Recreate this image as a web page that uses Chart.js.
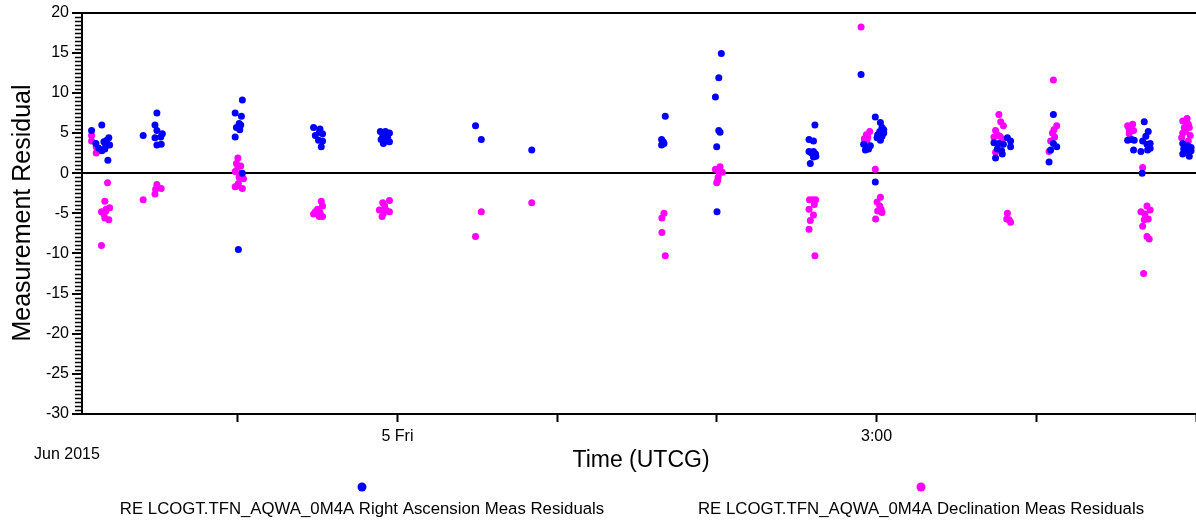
<!DOCTYPE html>
<html>
<head>
<meta charset="utf-8">
<script src="https://cdn.jsdelivr.net/npm/chart.js@4.4.1/dist/chart.umd.min.js"></script>
<style>
  html, body { margin: 0; padding: 0; background: #fff; }
  #wrap { width: 1196px; height: 523px; position: relative; }
</style>
</head>
<body>
<div id="wrap"><canvas id="myChartResiduales"></canvas></div>
<script>
// horas relativas a 5 Jun 2015 00:00 UTCG, residuo
var raPoints = [
    [-1.915, 5.3], [-1.888, 3.7], [-1.851, 6.0], [-1.851, 2.8], [-1.838, 3.9], [-1.826, 3.4],
    [-1.820, 4.1], [-1.807, 4.4], [-1.802, 3.5], [-1.813, 1.6], [-1.832, 3.0], [-1.870, 3.1],
    [-1.592, 4.7], [-1.506, 7.5], [-1.518, 6.0], [-1.506, 5.3], [-1.518, 4.4], [-1.506, 3.5],
    [-1.479, 3.6], [-1.472, 4.9], [-1.482, 4.5],
    [-1.016, 7.5], [-0.971, 9.1], [-0.977, 7.1], [-0.991, 6.2], [-1.008, 5.7], [-0.981, 6.0],
    [-0.987, 5.4], [-1.016, 4.5], [-0.971, 0.0], [-0.996, -9.5],
    [-0.525, 5.7], [-0.485, 5.5], [-0.514, 4.7], [-0.469, 4.9], [-0.494, 4.1], [-0.469, 4.0],
    [-0.477, 3.3], [-0.489, 5.1],
    [-0.107, 5.2], [-0.075, 5.2], [-0.050, 5.0], [-0.092, 4.6], [-0.061, 4.4], [-0.102, 4.2],
    [-0.050, 3.9], [-0.088, 3.7], [-0.072, 4.0], [-0.082, 4.9],
    [0.489, 5.9], [0.525, 4.2], [0.841, 2.9],
    [1.677, 7.1], [1.654, 4.2], [1.664, 3.9], [1.654, 3.5], [1.669, 3.7],
    [2.028, 14.9], [2.012, 11.9], [1.991, 9.5], [2.012, 5.3], [2.020, 5.1], [1.999, 3.3], [2.001, -4.8],
    [2.614, 6.0], [2.577, 4.2], [2.605, 4.0], [2.577, 2.7], [2.605, 2.7], [2.618, 2.4],
    [2.605, 2.0], [2.620, 2.1], [2.585, 1.2], [2.592, 2.5],
    [2.903, 12.3], [2.992, 7.0], [3.024, 6.3], [3.034, 5.7], [3.045, 5.4], [3.020, 5.2],
    [3.007, 4.8], [3.034, 4.6], [3.024, 4.1], [3.003, 4.4], [3.045, 5.0], [2.919, 3.6],
    [2.940, 3.2], [2.930, 2.9], [2.961, 3.4], [2.950, 3.0], [2.992, -1.1],
    [3.735, 3.8], [3.766, 3.7], [3.794, 3.6], [3.819, 4.4], [3.839, 4.0], [3.839, 3.3],
    [3.783, 2.8], [3.756, 3.0], [3.745, 1.9], [3.787, 2.4],
    [4.107, 7.3], [4.107, 3.7], [4.090, 2.9], [4.128, 3.3], [4.080, 1.4],
    [4.676, 6.4], [4.701, 5.2], [4.686, 4.6], [4.572, 4.1], [4.597, 4.2], [4.613, 4.1],
    [4.666, 4.0], [4.693, 3.6], [4.713, 3.7], [4.609, 2.9], [4.655, 2.7], [4.697, 2.9],
    [4.713, 3.1], [4.663, 0.0],
    [4.917, 3.7], [4.948, 3.4], [4.969, 3.2], [4.923, 3.0], [4.944, 2.8], [4.917, 2.4],
    [4.958, 2.1], [4.930, 3.3], [4.969, 2.8]
];

var decPoints = [
    [-1.915, 4.7], [-1.915, 4.0], [-1.886, 3.3], [-1.886, 2.5], [-1.880, 2.9], [-1.815, -1.2],
    [-1.832, -3.5], [-1.853, -4.8], [-1.824, -4.5], [-1.802, -4.3], [-1.838, -5.1], [-1.832, -5.6],
    [-1.807, -5.8], [-1.826, -4.7], [-1.853, -9.0],
    [-1.592, -3.3], [-1.506, -1.4], [-1.479, -1.9], [-1.518, -2.6], [-1.514, -2.0],
    [-0.999, 1.9], [-1.008, 1.2], [-0.981, 0.9], [-1.016, 0.2], [-0.999, 0.8], [-0.979, 0.0],
    [-0.991, -0.5], [-1.016, -1.7], [-0.996, -1.3], [-0.971, -1.9], [-0.964, -0.7], [-1.003, -1.6],
    [-0.477, -3.5], [-0.469, -4.1], [-0.514, -4.8], [-0.500, -4.5], [-0.525, -5.1], [-0.489, -5.4],
    [-0.469, -5.4], [-0.505, -5.0], [-0.485, -4.9],
    [-0.050, -3.4], [-0.092, -3.7], [-0.080, -4.1], [-0.113, -4.6], [-0.050, -4.8], [-0.096, -5.4],
    [-0.072, -4.6], [-0.088, -5.0],
    [0.525, -4.8], [0.489, -7.9], [0.841, -3.7],
    [1.669, -5.0], [1.656, -5.6], [1.656, -7.4], [1.677, -10.3],
    [1.991, 0.5], [2.020, 0.8], [2.012, 0.2], [2.034, 0.1], [2.008, -0.5], [1.999, -1.2], [2.005, -0.9],
    [2.580, -3.3], [2.618, -3.3], [2.600, -3.3], [2.610, -3.9], [2.577, -4.5], [2.605, -5.2],
    [2.585, -5.9], [2.577, -7.0], [2.614, -10.3],
    [2.903, 18.2], [2.957, 5.2], [2.936, 4.8], [2.923, 4.3], [2.940, 4.1], [2.930, 3.7],
    [2.945, 4.5], [2.992, 0.5], [3.024, -3.0], [3.003, -3.6], [3.020, -4.1], [3.028, -4.5],
    [3.007, -4.7], [3.034, -4.9], [2.994, -5.7],
    [3.766, 7.3], [3.777, 6.4], [3.794, 5.9], [3.745, 5.3], [3.756, 4.8], [3.735, 4.5],
    [3.772, 4.6], [3.787, 4.3], [3.745, 2.6], [3.819, -5.0], [3.839, -6.1], [3.830, -5.8], [3.815, -5.7],
    [4.107, 11.6], [4.128, 5.9], [4.111, 5.4], [4.101, 5.0], [4.115, 4.5], [4.090, 4.0], [4.080, 2.7],
    [4.572, 5.9], [4.603, 6.1], [4.582, 5.4], [4.609, 5.3], [4.582, 4.9], [4.666, 0.7],
    [4.693, -4.1], [4.655, -4.8], [4.713, -4.6], [4.680, -5.1], [4.701, -5.7], [4.676, -5.8],
    [4.666, -6.6], [4.693, -7.9], [4.707, -8.2], [4.672, -12.5],
    [4.944, 6.8], [4.917, 6.5], [4.952, 6.1], [4.927, 5.7], [4.958, 5.7], [4.917, 5.0],
    [4.964, 4.7], [4.910, 4.4], [4.952, 4.0], [4.935, 5.2]
];

var xTickHours = [-1, 0, 1, 2, 3, 4, 5];
var xTickLabels = { 0: '5 Fri', 3: '3:00' };
var seriesNames = [
    'RE LCOGT.TFN_AQWA_0M4A Right Ascension Meas Residuals',
    'RE LCOGT.TFN_AQWA_0M4A Declination Meas Residuals'
];
var seriesColors = ['#0000ff', '#ff00ff'];

function toXY(arr) {
    return arr.map(function (p) { return { x: p[0], y: p[1] }; });
}

var FONT = 'Arial, "Liberation Sans", sans-serif';

// textos extra, marcas menores y leyenda
var extrasPlugin = {
    id: 'extras',
    afterDraw: function (chart) {
        var c = chart.ctx;
        var ys = chart.scales.y;
        var area = chart.chartArea;
        c.save();
        c.strokeStyle = '#000';
        c.lineWidth = 1.5;
        for (var v = -30; v <= 20; v += 0.5) {
            if (v % 5 === 0) continue;
            var py = Math.round(ys.getPixelForValue(v)) + 0.5;
            c.beginPath();
            c.moveTo(area.left - 7, py);
            c.lineTo(area.left, py);
            c.stroke();
        }

        c.fillStyle = '#000';
        c.textAlign = 'center';
        c.textBaseline = 'middle';
        c.font = '16px ' + FONT;
        c.fillText('Jun 2015', 67, 455);

        c.font = '23px ' + FONT;
        c.fillText('Time (UTCG)', 641, 461);

        c.save();
        c.translate(23, 213);
        c.rotate(-Math.PI / 2);
        c.font = '25px ' + FONT;
        c.fillText('Measurement Residual', 0, 0);
        c.restore();

        var legX = [362, 921];
        c.font = '16.8px ' + FONT;
        for (var i = 0; i < 2; i++) {
            c.fillStyle = seriesColors[i];
            c.beginPath();
            c.arc(legX[i], 487, 4.5, 0, Math.PI * 2);
            c.fill();
            c.fillStyle = '#000';
            c.fillText(seriesNames[i], legX[i], 509);
        }
        c.restore();
    }
};

function initializeChartResiduales() {
    var ctx = document.getElementById('myChartResiduales').getContext('2d');

    window.myChart = new Chart(ctx, {
        type: 'scatter',
        data: {
            datasets: [{
                label: seriesNames[0],
                data: toXY(raPoints),
                backgroundColor: seriesColors[0],
                borderWidth: 0,
                pointRadius: 3.5
            },
            {
                label: seriesNames[1],
                data: toXY(decPoints),
                backgroundColor: seriesColors[1],
                borderWidth: 0,
                pointRadius: 3.5
            }]
        },
        options: {
            responsive: true,
            maintainAspectRatio: false,
            animation: false,
            events: [],
            layout: {
                autoPadding: false,
                padding: { top: 11, left: 0, right: 0, bottom: 0 }
            },
            plugins: {
                legend: { display: false },
                tooltip: { enabled: false }
            },
            scales: {
                x: {
                    type: 'linear',
                    min: -1.975,
                    max: 5,
                    afterBuildTicks: function (scale) {
                        scale.ticks = xTickHours.map(function (h) { return { value: h }; });
                    },
                    afterFit: function (scale) {
                        scale.height = 109;
                        scale.paddingLeft = 0;
                        scale.paddingRight = 0;
                    },
                    ticks: {
                        autoSkip: false,
                        maxRotation: 0,
                        color: '#000',
                        padding: 5,
                        font: { size: 16, family: FONT },
                        callback: function (value) {
                            return xTickLabels[value] || '';
                        }
                    },
                    grid: {
                        drawOnChartArea: false,
                        tickLength: 8,
                        tickColor: '#000',
                        tickWidth: 2
                    },
                    border: { color: '#000', width: 2 }
                },
                y: {
                    min: -30,
                    max: 20,
                    afterFit: function (scale) { scale.width = 82; },
                    ticks: {
                        stepSize: 5,
                        color: '#000',
                        padding: 3,
                        font: { size: 16, family: FONT }
                    },
                    grid: {
                        drawOnChartArea: true,
                        tickLength: 10,
                        tickColor: '#000',
                        tickWidth: 2,
                        color: function (c) {
                            var v = c.tick ? c.tick.value : null;
                            return (v === 0 || v === 20) ? '#000' : 'rgba(0,0,0,0)';
                        },
                        lineWidth: 2
                    },
                    border: { color: '#000', width: 2 }
                }
            }
        },
        plugins: [extrasPlugin]
    });
}

initializeChartResiduales();
</script>
</body>
</html>
